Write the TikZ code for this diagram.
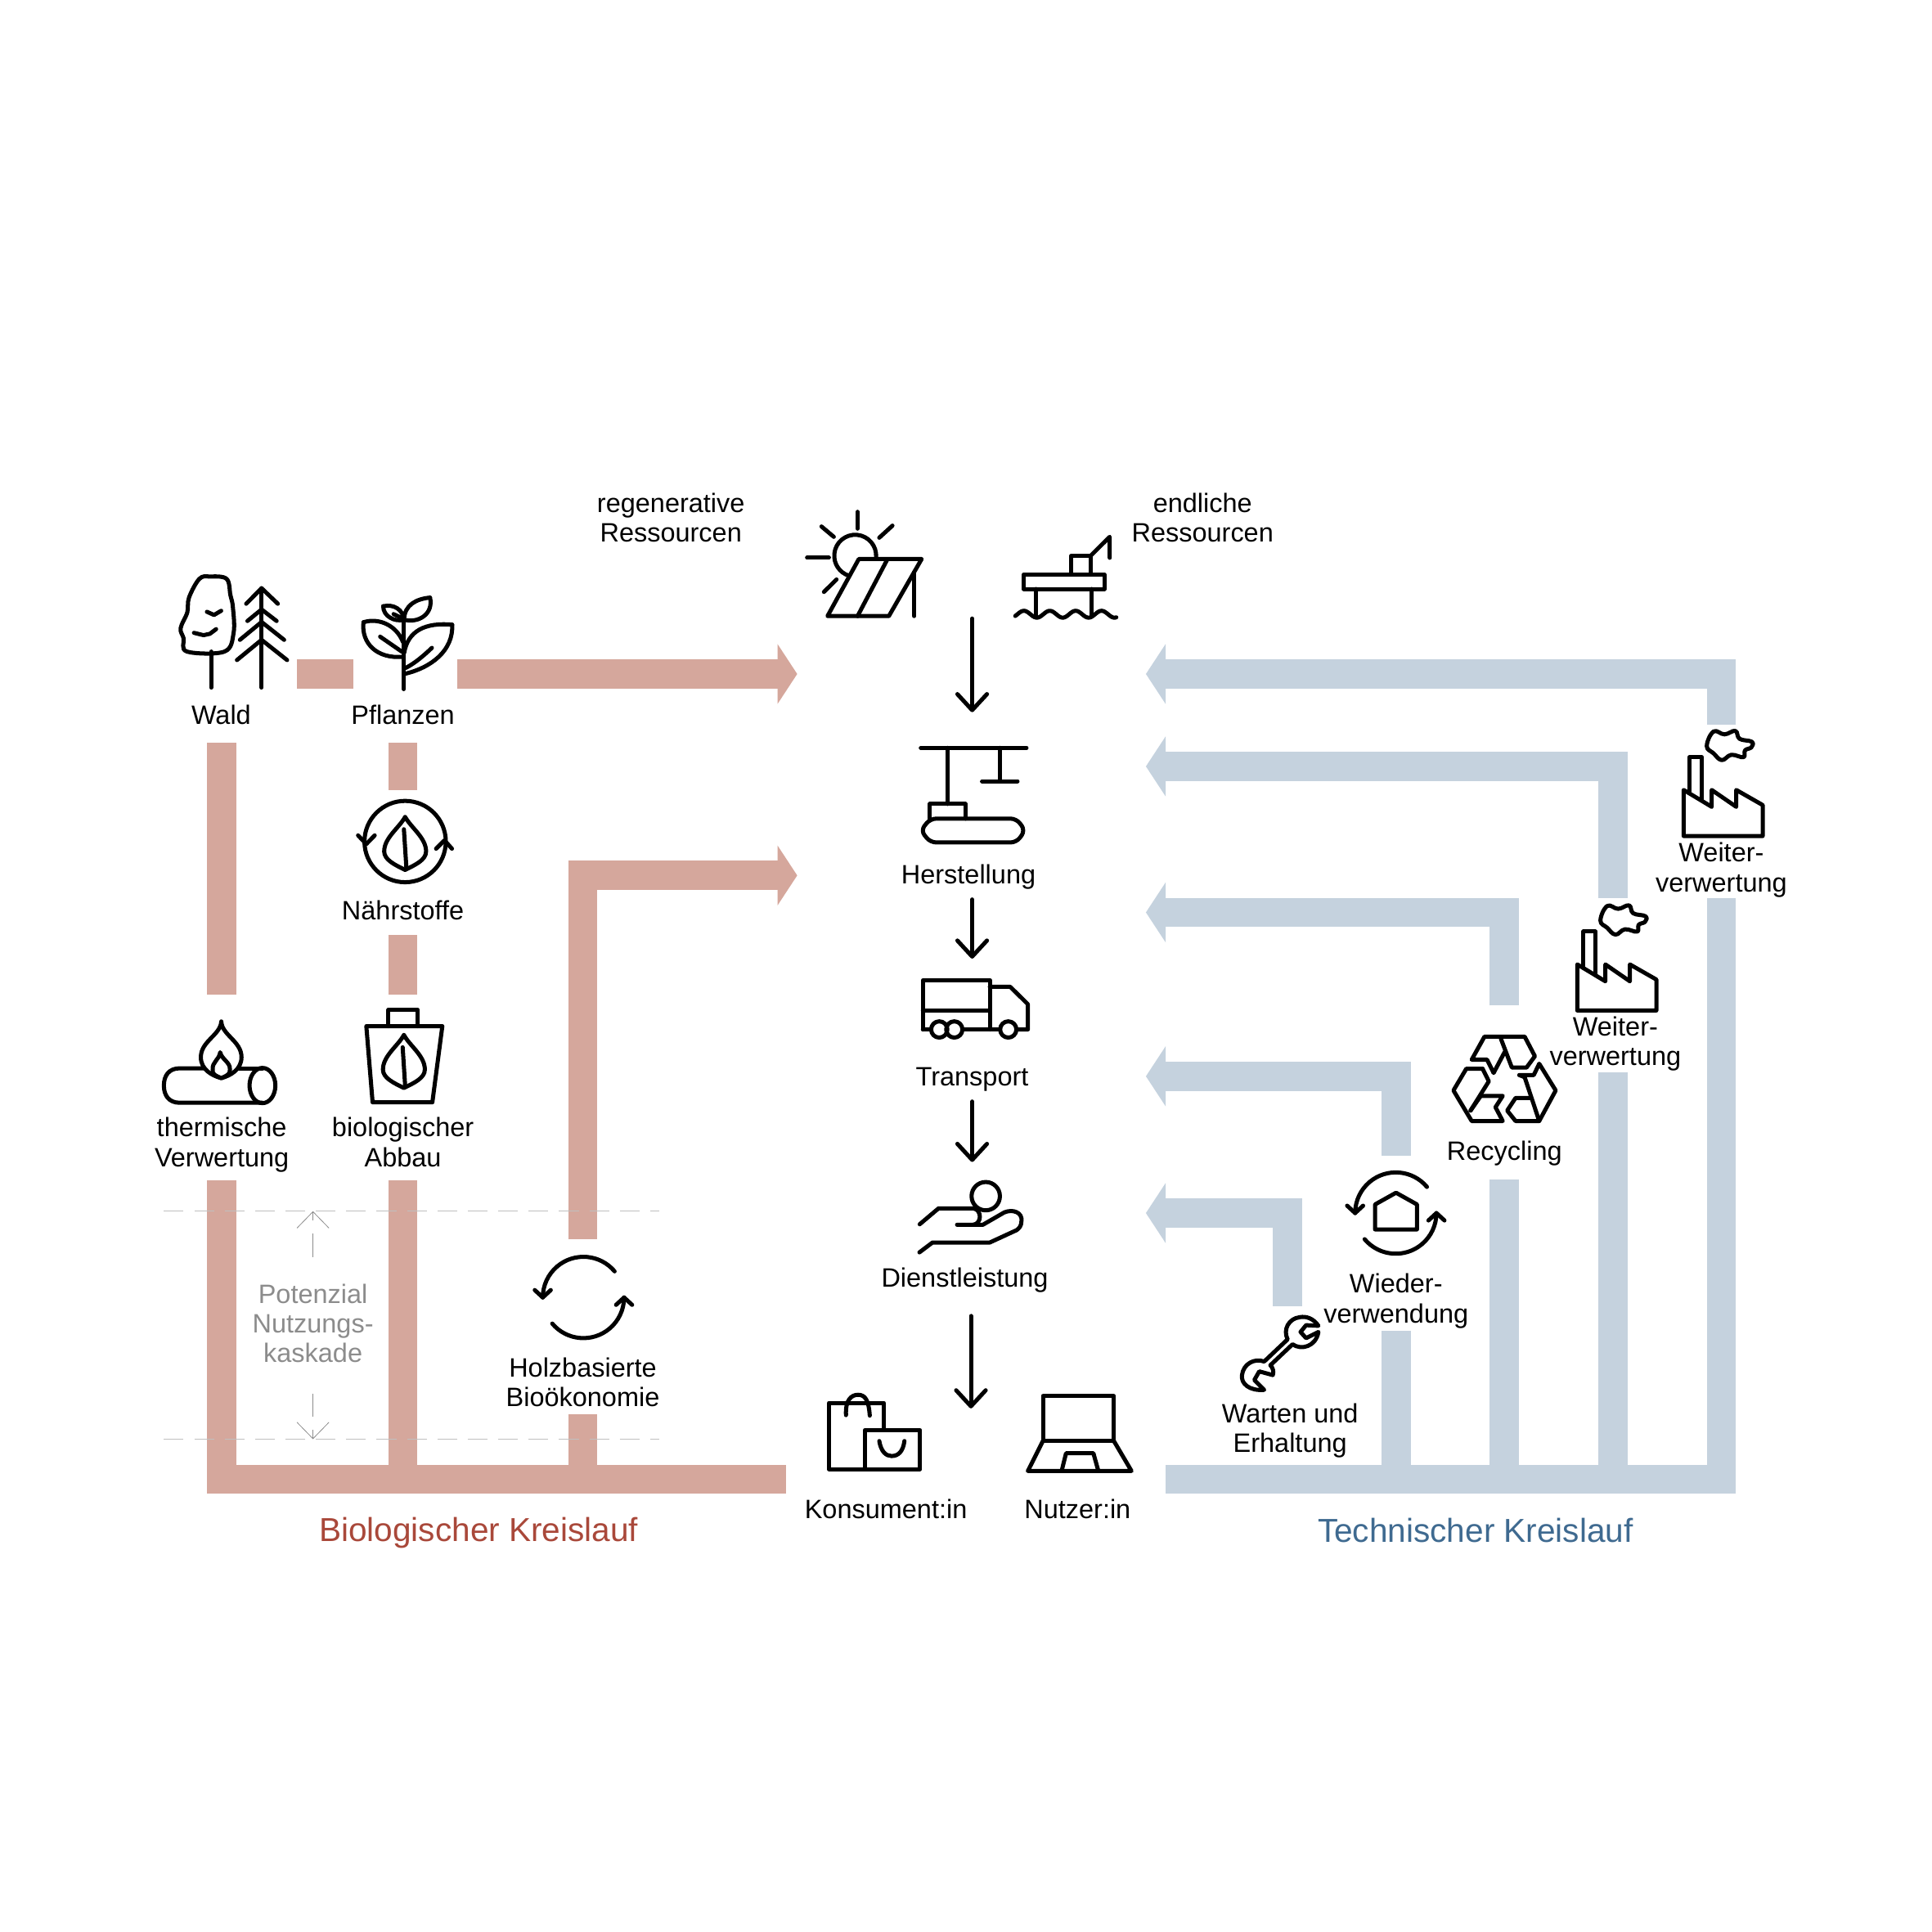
\documentclass[tikz,border=0pt]{standalone}
\usepackage{fontspec}
\setmainfont{Liberation Sans}
\usetikzlibrary{arrows.meta}

\definecolor{bandrot}{HTML}{D5A79C}
\definecolor{bandblau}{HTML}{C5D2DE}
\definecolor{titelrot}{HTML}{A9483A}
\definecolor{titelblau}{HTML}{3F6A90}
\definecolor{kaskade}{HTML}{8C8C8C}

\tikzset{
	icon/.style={line width=.5mm, line cap=round, line join=round},
	lbl/.style={font=\fontsize{9.2}{10.3}\selectfont, align=center, inner sep=0pt},
	titel/.style={font=\fontsize{11.5}{12}\selectfont, inner sep=0pt},
	rotband/.style={draw=bandrot, line width=3.55mm},
	blauband/.style={draw=bandblau, line width=3.55mm},
	bandpfeil/.style={-{Triangle[length=2.4mm,width=7.2mm]}},
	flusspfeil/.style={icon, -{Straight Barb[length=1.95mm,width=3.6mm,round]}},
	grenze/.style={draw=black!25, line width=.12mm, dash pattern=on 2.4mm off 1.3mm},
	kaskadenpfeil/.style={draw=kaskade, line width=.08mm, dash pattern=on 2.8mm off 1.6mm, -{Straight Barb[length=2mm,width=3.9mm]}},
	blatt/.pic={
		\draw[icon] (0,0) .. controls (-5,9) and (-17,17) .. (-17,28) .. controls (-17,35) and (-8,39) .. (0,43) .. controls (8,39) and (17,35) .. (17,28) .. controls (17,17) and (5,9) .. (0,0);
		\draw[icon] (-1,10) -- (1,41);
	},
	kreispfeile/.pic={
		\draw[icon] (25.3,-21.2) arc[start angle=-40, end angle=-180, radius=33];
		\draw[icon] (-39.5,-6) -- (-33,0) -- (-26.5,-6);
		\draw[icon] (-25.3,21.2) arc[start angle=140, end angle=0, radius=33];
		\draw[icon] (26.5,6) -- (33,0) -- (39.5,6);
	},
	fabrik/.pic={
		\draw[icon] (0,0) -- (64.2,0) -- (64.2,-25.1) -- (42.7,-37.4) -- (42.7,-23.7) -- (22.8,-37.4) -- (22.8,-23.7) -- (0,-37.4) -- cycle;
		\draw[icon] (4.9,-36.2) -- (4.9,-64) -- (14.8,-64) -- (14.8,-29);
		\draw[icon] plot[smooth cycle, tension=.7] coordinates {(18.8,-73) (24.3,-84.8) (33.2,-82.5) (42,-85.3) (45.4,-78.9) (55.3,-76.5) (55,-72) (49.8,-69.5) (48.6,-64) (38.7,-65.9) (31,-61.6) (24.3,-67.1)};
	}
}

\begin{document}
\begin{tikzpicture}[x=.15mm, y=-.15mm]
	\useasboundingbox (0,0) rectangle (1568,1568);
	
	\coordinate (waldO) at (241,547);
	\coordinate (pflanzenW) at (287,547);
	\coordinate (pflanzenO) at (371,547);
	\coordinate (regenerativ) at (647,547);
	\coordinate (waldS) at (180,603);
	\coordinate (thermN) at (180,807);
	\coordinate (pflanzenS) at (327,603);
	\coordinate (naehrN) at (327,641);
	\coordinate (naehrS) at (327,759);
	\coordinate (abbauN) at (327,807);
	\coordinate (thermS) at (180,958);
	\coordinate (abbauS) at (327,958);
	\coordinate (abbauB) at (327,1195);
	\coordinate (holzN) at (473,1006);
	\coordinate (holzS) at (473,1148);
	\coordinate (holzB) at (473,1195);
	\coordinate (holzE) at (473,710.5);
	\coordinate (herstellungW) at (647,710.5);
	\coordinate (bioE) at (180,1200.5);
	\coordinate (bioO) at (638,1200.5);
	
	\draw[rotband] (waldO) -- (pflanzenW);
	\draw[rotband, bandpfeil] (pflanzenO) -- (regenerativ);
	\draw[rotband] (waldS) -- (thermN);
	\draw[rotband] (pflanzenS) -- (naehrN);
	\draw[rotband] (naehrS) -- (abbauN);
	\draw[rotband] (thermS) -- (bioE) -- (bioO);
	\draw[rotband] (abbauS) -- (abbauB);
	\draw[rotband] (holzS) -- (holzB);
	\draw[rotband, bandpfeil] (holzN) -- (holzE) -- (herstellungW);
	
	\coordinate (techW) at (946,1200.5);
	\coordinate (techE) at (1397,1200.5);
	\coordinate (weiterAS) at (1397,729);
	\coordinate (weiterBS) at (1309,870);
	\coordinate (weiterBB) at (1309,1195);
	\coordinate (recycS) at (1221,957);
	\coordinate (recycB) at (1221,1195);
	\coordinate (wiederS) at (1133,1080);
	\coordinate (wiederB) at (1133,1195);
	
	\draw[blauband] (techW) -- (techE) -- (weiterAS);
	\draw[blauband] (weiterBS) -- (weiterBB);
	\draw[blauband] (recycS) -- (recycB);
	\draw[blauband] (wiederS) -- (wiederB);
	
	\coordinate (weiterAN) at (1397,588);
	\coordinate (weiterAE) at (1397,547);
	\coordinate (zielA) at (930,547);
	\coordinate (weiterBN) at (1309,729);
	\coordinate (weiterBE) at (1309,622);
	\coordinate (zielB) at (930,622);
	\coordinate (recycN) at (1221,816);
	\coordinate (recycE) at (1221,740.5);
	\coordinate (zielC) at (930,740.5);
	\coordinate (wiederN) at (1133,938);
	\coordinate (wiederE) at (1133,873.5);
	\coordinate (zielD) at (930,873.5);
	\coordinate (wartenN) at (1045,1060);
	\coordinate (wartenE) at (1045,984.5);
	\coordinate (zielE) at (930,984.5);
	
	\draw[blauband, bandpfeil] (weiterAN) -- (weiterAE) -- (zielA);
	\draw[blauband, bandpfeil] (weiterBN) -- (weiterBE) -- (zielB);
	\draw[blauband, bandpfeil] (recycN) -- (recycE) -- (zielC);
	\draw[blauband, bandpfeil] (wiederN) -- (wiederE) -- (zielD);
	\draw[blauband, bandpfeil] (wartenN) -- (wartenE) -- (zielE);
	
	\coordinate (gObenW) at (133,983);
	\coordinate (gObenO) at (535,983);
	\coordinate (gUntenW) at (133,1168);
	\coordinate (gUntenO) at (535,1168);
	\coordinate (kaskO) at (254,1020);
	\coordinate (kaskU) at (254,1131);
	\draw[grenze] (gObenW) -- (gObenO);
	\draw[grenze] (gUntenW) -- (gUntenO);
	\draw[kaskadenpfeil] (kaskO) -- (254,983);
	\draw[kaskadenpfeil] (kaskU) -- (254,1168);
	
	\coordinate (rohN) at (789,502);
	\coordinate (rohS) at (789,578);
	\coordinate (herstS) at (789,730);
	\coordinate (transN) at (789,778);
	\coordinate (transS) at (789,894);
	\coordinate (dienstN) at (789,943);
	\coordinate (dienstS) at (788,1068);
	\coordinate (konsN) at (788,1143);
	\draw[flusspfeil] (rohN) -- (rohS);
	\draw[flusspfeil] (herstS) -- (transN);
	\draw[flusspfeil] (transS) -- (dienstN);
	\draw[flusspfeil] (dienstS) -- (konsN);
	
	\node[lbl] (regen) at (544.5,420) {regenerative\\Ressourcen};
	\node[lbl] (endl) at (976,420) {endliche\\Ressourcen};
	\node[lbl] (wald) at (179.5,580) {Wald};
	\node[lbl] (pflanzen) at (327,580) {Pflanzen};
	\node[lbl] (naehr) at (327,739) {Nährstoffe};
	\node[lbl] (therm) at (180,929) {thermische\\Verwertung};
	\node[lbl] (abbau) at (327,927) {biologischer\\Abbau};
	\node[lbl, text=kaskade] (kask) at (254,1074) {Potenzial\\Nutzungs-\\kaskade};
	\node[lbl] (holz) at (473,1122) {Holzbasierte\\Bioökonomie};
	\node[lbl] (herst) at (786,712) {Herstellung};
	\node[lbl] (trans) at (789,876) {Transport};
	\node[lbl] (dienst) at (783,1039) {Dienstleistung};
	\node[lbl] (kons) at (719,1225) {Konsument:in};
	\node[lbl] (nutz) at (874.5,1225) {Nutzer:in};
	\node[lbl] (weiterA) at (1397,706) {Weiter-\\verwertung};
	\node[lbl] (weiterB) at (1311,847) {Weiter-\\verwertung};
	\node[lbl] (recyc) at (1221,936) {Recycling};
	\node[lbl] (wieder) at (1133,1056) {Wieder-\\verwendung};
	\node[lbl] (warten) at (1047,1161) {Warten und\\Erhaltung};
	\node[titel, text=titelrot] (bio) at (388.5,1244) {Biologischer Kreislauf};
	\node[titel, text=titelblau] (tech) at (1197.5,1242) {Technischer Kreislauf};
	
	\draw[icon] plot[smooth cycle, tension=.6] coordinates {(161.8,469.8) (170.3,467.9) (183.9,469.8) (187,483) (189,492.7) (189.6,513.6) (182.2,528.8) (151.7,528.8) (149,518) (146.6,509.8) (152,497) (153.4,485)};
	\draw[icon] (171.3,528.8) -- (171.3,558);
	\draw[icon] (167.9,496.5) -- (173.7,499.1) -- (179.5,495.7);
	\draw[icon] (157.4,513.6) -- (165.2,515.5) -- (170.3,514.4) -- (175.4,510.6);
	\draw[icon] (212.3,477.4) -- (212.3,558);
	\draw[icon] (199.8,490) -- (212.3,477.4) -- (225.5,490);
	\draw[icon] (200.8,504) -- (212.3,494.6) -- (224.5,504);
	\draw[icon] (194.7,519.3) -- (212.3,504.8) -- (230.6,519.3);
	\draw[icon] (192.3,535.7) -- (212.3,519.3) -- (233,535.7);
	
	\draw[icon] (327.8,503) -- (327.8,559.3);
	\draw[icon] (295,505) .. controls (308,501) and (322,508) .. (327,521);
	\draw[icon] (295,505) .. controls (293,522) and (306,535) .. (327,533);
	\draw[icon] (308.5,516.7) -- (326,528.8);
	\draw[icon] (367,507) .. controls (345,505) and (331,512) .. (328,530);
	\draw[icon] (367,507) .. controls (368,528) and (350,542) .. (328,547);
	\draw[icon] (350.5,525.8) .. controls (344,532) and (337,538) .. (329.5,542);
	\draw[icon] (349,485) .. controls (338,486) and (328,491) .. (328,503);
	\draw[icon] (349,485) .. controls (352,498) and (340,506) .. (328,503);
	\draw[icon] (311,492) .. controls (320,490) and (327,495) .. (328,503);
	\draw[icon] (311,492) .. controls (311,500) and (320,505) .. (328,503);
	\draw[icon] (319.4,498.4) -- (327,502);
	
	\draw[icon] (328.8,683) circle[radius=33];
	\draw[icon] (290.6,678) -- (297.3,685) -- (304.1,678);
	\draw[icon] (353.9,688.8) -- (360.7,682) -- (366.8,688.8);
	\pic at (328.8,663) {blatt};
	
	\draw[icon] (166,867) -- (146,867) .. controls (137,867) and (133,873) .. (133,881) .. controls (133,889) and (137,895) .. (146,895) -- (213,895);
	\draw[icon] (194,867) -- (213,867);
	\draw[icon] (213,881) ellipse[x radius=10.5, y radius=14.3];
	\draw[icon] (179.6,829) .. controls (179,840) and (163,845) .. (163,858) .. controls (163,868) and (172,873) .. (179.6,875) .. controls (187,873) and (196,868) .. (196,858) .. controls (196,845) and (180,840) .. (179.6,829);
	\draw[icon] (179.6,875) .. controls (175,873) and (172,872) .. (172.6,868) .. controls (172,862) and (178,860) .. (178.7,854) .. controls (180,860) and (187,862) .. (186.6,868) .. controls (187,872) and (184,873) .. (179.6,875);
	
	\draw[icon] (297.3,832.8) -- (359,832.8) -- (350.9,894.6) -- (302.4,894.6) -- cycle;
	\draw[icon] (315.3,832.8) -- (315.3,819.5) -- (339,819.5) -- (339,832.8);
	\pic at (327.8,840) {blatt};
	
	\pic at (473.5,1053) {kreispfeile};
	\pic at (1132.8,984.5) {kreispfeile};
	\draw[icon] (1116,997.8) -- (1150,997.8) -- (1150,977.5) -- (1133,968) -- (1116,977.5) -- cycle;
	
	\draw[icon] (697,453.7) -- (748,453.7) -- (721.4,500) -- (671.6,500) -- cycle;
	\draw[icon] (720.3,453.7) -- (696,500);
	\draw[icon] (742,464.5) -- (742,500);
	\draw[icon] (711,452.5) arc[start angle=5, end angle=-252, radius=17];
	\draw[icon] (695.9,415.4) -- (695.9,429);
	\draw[icon] (655,452.7) -- (672.7,452.7);
	\draw[icon] (666.7,427.3) -- (676.7,435.7);
	\draw[icon] (724.3,426.6) -- (713.6,436.4);
	\draw[icon] (668.7,480.4) -- (678.9,470.3);
	
	\draw[icon] (830.9,466.2) rectangle (896.2,478);
	\draw[icon] (869.6,466.2) -- (869.6,451) -- (885.2,451) -- (885.2,466.2);
	\draw[icon] (885.2,451) -- (900.6,435.7) -- (900.6,452.7);
	\draw[icon] (840.9,478) -- (840.9,500);
	\draw[icon] (886.2,478) -- (886.2,500);
	\draw[icon] plot[domain=824:906, samples=70, smooth] (\x,{498.5+2.8*cos(17.143*(\x-841.5))});
	
	\draw[icon] (747.3,607) -- (833.1,607);
	\draw[icon] (769,607) -- (769,652.5);
	\draw[icon] (811.5,607) -- (811.5,634);
	\draw[icon] (797,634) -- (825.8,634);
	\draw[icon] (754.6,664.4) -- (754.6,652.5) -- (783.4,652.5) -- (783.4,664.4);
	\draw[icon, rounded corners=2] (755,664.4) -- (825,664.4) -- (832,674) -- (825,683.7) -- (755,683.7) -- (747.3,674) -- cycle;
	
	\draw[icon] (749,835.5) -- (749,795.5) -- (803.3,795.5) -- (803.3,835.5);
	\draw[icon] (749,820) -- (803.3,820);
	\draw[icon] (803.3,800.9) -- (819.9,800.9) -- (834.2,815) -- (834.2,835.5) -- (825,835.5);
	\draw[icon] (811.6,835.5) -- (781.1,835.5);
	\draw[icon] (749,835.5) -- (755.7,835.5);
	\foreach \rad in {762.3,774.5,818.3}
		\draw[icon] (\rad,835.5) circle[radius=6.6];
	
	\draw[icon] (800,970.8) circle[radius=11.5];
	\draw[icon] (746.4,993.6) -- (761.7,980.7) -- (790,980.7) .. controls (797,982) and (797,993) .. (790,994);
	\draw[icon] (776.7,994) -- (797.7,994) -- (815,984) .. controls (822,981) and (830,984) .. (829,991) .. controls (829,995) and (827,997) .. (825,998.4) -- (803.3,1008.4) -- (756.8,1008.4) -- (746.2,1016.4);
	
	\draw[icon] (701.9,1192.3) -- (672.7,1192.3) -- (672.7,1138.5) -- (717.4,1138.5) -- (717.4,1160.6);
	\draw[icon] (701.9,1160.6) rectangle (746.8,1192.3);
	\draw[icon] (686.6,1148.5) .. controls (686,1136) and (691,1132) .. (696.4,1132) .. controls (702,1132) and (705,1136) .. (705.9,1148.9);
	\draw[icon] (713.6,1169.5) .. controls (715,1178) and (719,1181.7) .. (723.6,1181.7) .. controls (729,1181.7) and (733,1178) .. (734,1169.5);
	
	\draw[icon] (846.4,1169.5) -- (846.4,1133) -- (904,1133) -- (904,1169.5) -- cycle;
	\draw[icon] (846.4,1169.5) -- (834.2,1193.8) -- (918.3,1193.8) -- (904,1169.5);
	\draw[icon] (861.9,1192.7) -- (865.2,1179.4) -- (887.4,1179.4) -- (891.1,1192.7);
	
	\pic at (1366.4,678.5) {fabrik};
	\pic at (1280.1,820.1) {fabrik};
	
	\draw[icon] (1218.1,843) -- (1227,866.4) -- (1238.9,866.4) -- (1245.7,857.2) -- (1237.4,841.3) -- (1204.8,841.3) -- (1194.4,860) -- (1206.9,860) -- (1212.2,870.8) -- (1221.1,853.9);
	\draw[icon] (1237.4,874.2) -- (1249.2,909.8) -- (1230,909.8) -- (1223.2,901.3) -- (1230,891.1) -- (1241.8,891.1);
	\draw[icon] (1237.4,874.2) -- (1233,872.5) -- (1244.8,872.5) -- (1249.2,863.3) -- (1262.6,885) -- (1249.2,909.8);
	\draw[icon] (1203.3,867.4) -- (1190,867.4) -- (1179.6,885) -- (1194.4,909.8) -- (1219.6,909.8) -- (1213.7,898.6) -- (1219.6,889.4) -- (1201.8,889.4) -- (1193.5,901.3);
	\draw[icon] (1203.3,867.4) -- (1208.3,877.6) -- (1193.5,901.3);
	
	\draw[icon] (1070,1076) .. controls (1066,1070) and (1060,1068) .. (1055,1069) .. controls (1046,1070) and (1041,1079) .. (1045,1087) -- (1026,1105) .. controls (1018,1102) and (1009,1107) .. (1008,1116) .. controls (1007,1123) and (1014,1129) .. (1026,1128) -- (1018,1120) -- (1022,1113) -- (1033,1116) .. controls (1034,1113) and (1033,1110) .. (1031,1108) -- (1049,1091) .. controls (1056,1096) and (1068,1093) .. (1070,1081) -- (1060,1086) -- (1055.5,1081) -- (1060,1075.5) -- cycle;
\end{tikzpicture}
\end{document}
